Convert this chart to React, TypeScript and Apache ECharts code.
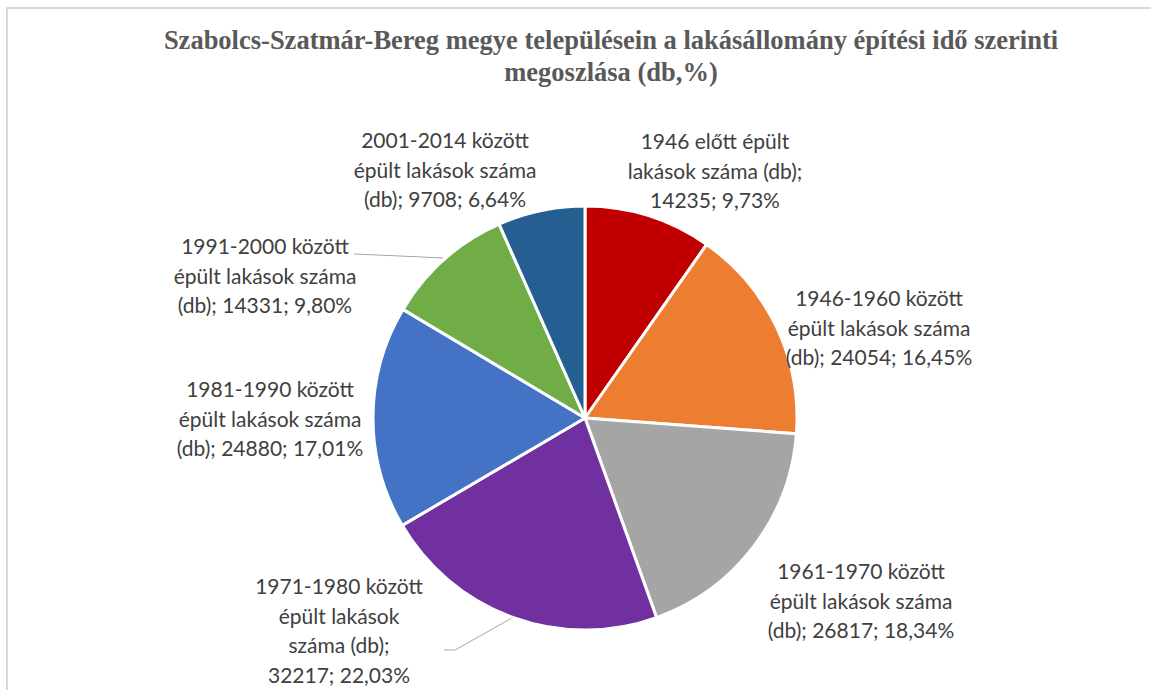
import React, { useEffect, useRef } from "react";
import * as echarts from "echarts";

const titleText =
  "Szabolcs-Szatmár-Bereg megye településein a lakásállomány építési idő szerinti\nmegoszlása (db,%)";

const categories = [
  "1946 előtt épült lakások száma (db)",
  "1946-1960 között épült lakások száma (db)",
  "1961-1970 között épült lakások száma (db)",
  "1971-1980 között épült lakások száma (db)",
  "1981-1990 között épült lakások száma (db)",
  "1991-2000 között épült lakások száma (db)",
  "2001-2014 között épült lakások száma (db)",
];

const values = [14235, 24054, 26817, 32217, 24880, 14331, 9708];

// label templates: {v} value, {p} percent
const labelTemplates = [
  "1946 előtt épült\nlakások száma (db);\n{v}; {p}",
  "1946-1960 között\népült lakások száma\n(db); {v}; {p}",
  "1961-1970 között\népült lakások száma\n(db); {v}; {p}",
  "1971-1980 között\népült lakások\nszáma (db);\n{v}; {p}",
  "1981-1990 között\népült lakások száma\n(db); {v}; {p}",
  "1991-2000 között\népült lakások száma\n(db); {v}; {p}",
  "2001-2014 között\népült lakások száma\n(db); {v}; {p}",
];

const colors = ["#C00000", "#ED7D31", "#A5A5A5", "#7030A0", "#4472C4", "#70AD47", "#255E91"];

// label block centres (layout)
const labelPos: [number, number][] = [
  [715, 170],
  [879, 327],
  [861, 600],
  [339, 630],
  [270, 418],
  [265, 275],
  [445, 169],
];

const labelLines: (number[][] | null)[] = [
  null,
  null,
  null,
  [[444, 650], [455, 650], [512, 618]],
  null,
  [[354, 254], [400, 256], [443, 258]],
  null,
];

export default function App() {
  const ref = useRef<HTMLDivElement>(null);
  useEffect(() => {
    if (!ref.current) return;
    const chart = echarts.init(ref.current, null, { renderer: "svg" });
    const total = values.reduce((a, b) => a + b, 0);
    chart.setOption({
      animation: false,
      backgroundColor: "#ffffff",
      title: {
        text: titleText,
        left: 606,
        top: 19,
        textAlign: "center",
        textStyle: {
          fontFamily: "Liberation Serif",
          fontWeight: "bold",
          fontSize: 26.5,
          lineHeight: 32,
          color: "#595959",
        },
      },
      graphic: [
        {
          type: "rect",
          shape: { x: 7, y: 8, width: 1300, height: 900 },
          style: { fill: "none", stroke: "#D9D9D9", lineWidth: 2 },
          silent: true,
        },
      ],
      series: [
        {
          type: "pie",
          center: [585, 418],
          radius: 212,
          startAngle: 90,
          clockwise: true,
          itemStyle: { borderColor: "#ffffff", borderWidth: 3 },
          label: {
            show: true,
            position: "outside",
            fontFamily: "Lato",
            fontSize: 21,
            lineHeight: 29.5,
            color: "#404040",
            align: "center",
            formatter: (p: any) => {
              const pct = ((p.value / total) * 100).toFixed(2).replace(".", ",");
              return labelTemplates[p.dataIndex]
                .replace("{v}", String(p.value))
                .replace("{p}", pct + "%");
            },
          },
          labelLine: { show: false, lineStyle: { color: "#A6A6A6", width: 1 } },
          labelLayout: (params: any) => {
            const i = params.dataIndex;
            const out: any = {
              x: labelPos[i][0],
              y: labelPos[i][1],
              align: "center",
              verticalAlign: "middle",
            };
            if (labelLines[i]) out.labelLinePoints = labelLines[i];
            return out;
          },
          data: categories.map((name, i) => ({
            name,
            value: values[i],
            itemStyle: { color: colors[i] },
            labelLine: { show: !!labelLines[i] },
          })),
        },
      ],
    });
    return () => chart.dispose();
  }, []);
  return (
    <div
      ref={ref}
      style={{ position: "fixed", left: 0, top: 0, width: 1151, height: 690 }}
    />
  );
}
